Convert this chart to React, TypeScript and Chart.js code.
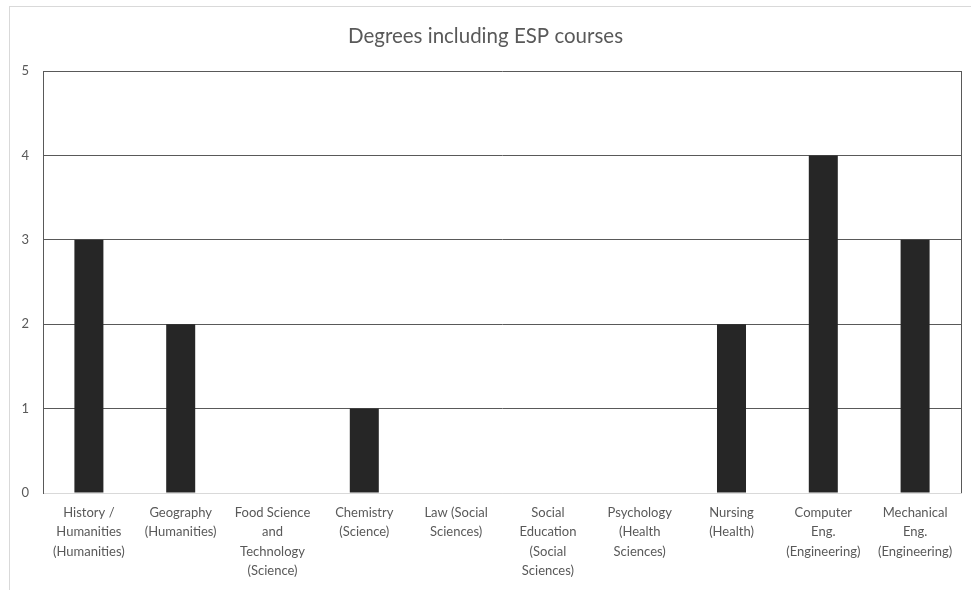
import React, { useEffect, useRef } from "react";
import { Chart, registerables } from "chart.js";

Chart.register(...registerables);

const chartTitle = "Degrees including ESP courses";
const categories: string[][] = [
  ["History /", "Humanities", "(Humanities)"],
  ["Geography", "(Humanities)"],
  ["Food Science", "and", "Technology", "(Science)"],
  ["Chemistry", "(Science)"],
  ["Law (Social", "Sciences)"],
  ["Social", "Education", "(Social", "Sciences)"],
  ["Psychology", "(Health", "Sciences)"],
  ["Nursing", "(Health)"],
  ["Computer", "Eng.", "(Engineering)"],
  ["Mechanical", "Eng.", "(Engineering)"],
];
const degreeCounts: number[] = [3, 2, 0, 1, 0, 0, 0, 2, 4, 3];
const yTicks: number[] = [0, 1, 2, 3, 4, 5];

const FONT = "Lato";
const TEXT = "#595959";

export default function App() {
  const ref = useRef<HTMLCanvasElement | null>(null);
  useEffect(() => {
    if (!ref.current) return;
    const frame = {
      id: "frame",
      beforeDraw(chart: any) {
        const c = chart.ctx;
        c.save();
        c.fillStyle = "#ffffff";
        c.fillRect(0, 0, chart.width, chart.height);
        c.strokeStyle = "#d9d9d9";
        c.lineWidth = 1;
        c.strokeRect(9.5, 6.5, chart.width + 20, chart.height + 20);
        c.restore();
      },
      afterDraw(chart: any) {
        const a = chart.chartArea;
        const c = chart.ctx;
        c.save();
        c.strokeStyle = "#595959";
        c.lineWidth = 1;
        c.beginPath();
        c.moveTo(Math.round(a.right) + 0.5, a.top);
        c.lineTo(Math.round(a.right) + 0.5, a.bottom);
        c.stroke();
        c.restore();
      },
    };
    const chart = new Chart(ref.current, {
      type: "bar",
      data: {
        labels: categories,
        datasets: [
          {
            data: degreeCounts,
            backgroundColor: "#262626",
            categoryPercentage: 1,
            barPercentage: 0.316,
          },
        ],
      },
      options: {
        animation: false,
        responsive: false,
        devicePixelRatio: 1,
        layout: { padding: { left: 10, right: 10, top: 0, bottom: 0 } },
        plugins: {
          legend: { display: false },
          tooltip: { enabled: false },
          title: {
            display: true,
            text: chartTitle,
            color: TEXT,
            font: { family: FONT, size: 20.5, weight: "normal", lineHeight: 1.2 },
            padding: { top: 24, bottom: 22.4 },
          },
        },
        scales: {
          x: {
            grid: { display: false, drawTicks: false },
            border: { color: "#d9d9d9" },
            ticks: {
              color: TEXT,
              font: { family: FONT, size: 13, lineHeight: 1.5 },
              padding: 10,
              maxRotation: 0,
              autoSkip: false,
            },
            afterFit(scale: any) {
              scale.height = 97;
            },
          },
          y: {
            min: 0,
            max: 5,
            afterBuildTicks(scale: any) {
              scale.ticks = yTicks.map((v) => ({ value: v }));
            },
            grid: {
              drawTicks: false,
              color: (ctx: any) => (ctx.tick && ctx.tick.value === 0 ? "#d9d9d9" : "#595959"),
            },
            border: { color: "#595959" },
            ticks: {
              color: TEXT,
              font: { family: FONT, size: 13 },
              padding: 14,
            },
            afterFit(scale: any) {
              scale.width = 33;
            },
          },
        },
      },
      plugins: [frame],
    });
    return () => chart.destroy();
  }, []);
  return (
    <div style={{ position: "absolute", left: 0, top: 0, width: 971, height: 590, overflow: "hidden" }}>
      <canvas ref={ref} width={971} height={590} style={{ display: "block" }} />
    </div>
  );
}
